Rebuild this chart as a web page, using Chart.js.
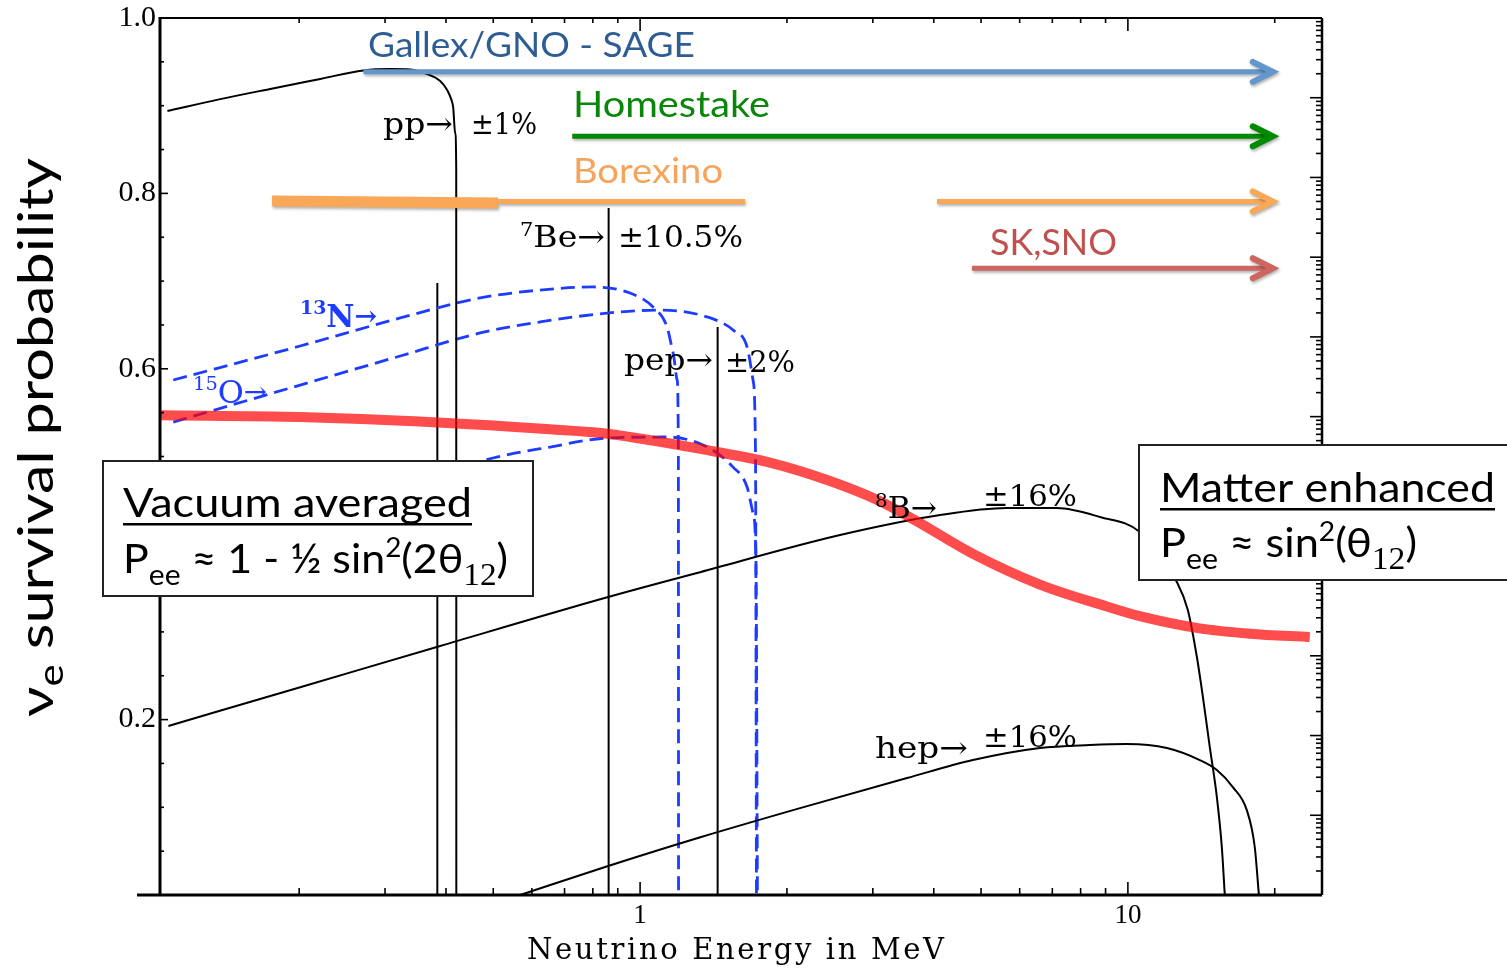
<!DOCTYPE html>
<html>
<head>
<meta charset="utf-8">
<title>Solar neutrino spectra and electron-neutrino survival probability</title>
<script src="https://cdn.jsdelivr.net/npm/chart.js@4.4.1/dist/chart.umd.min.js"></script>
<style>
  html, body { margin: 0; padding: 0; background: #fff; }
  canvas { display: block; }
</style>
</head>
<body>
<canvas id="c" width="1507" height="971"></canvas>
<script>
// ---------- solar neutrino spectra (energy in MeV, flux on the right log axis) ----------
const ppEnergy = [0.1074, 0.1378, 0.1745, 0.2210, 0.2707, 0.3074, 0.3379, 0.3660, 0.3892, 0.4022, 0.4099, 0.4138, 0.4177, 0.4198, 0.4200];
const ppFlux   = [6.8e10, 9.6e10, 1.29e11, 1.72e11, 2.2e11, 2.29e11, 2.26e11, 1.98e11, 1.62e11, 1.25e11, 9.6e10, 7.6e10, 3.6e10, 1.35e10, 10];

const be7Energy = [0.384, 0.862];
const be7Flux   = [4.74e8, 4.14e9];
const pepEnergy = [1.442];
const pepFlux   = [1.33e8];

const b8Energy = [0.1079, 0.2010, 0.3892, 0.8601, 1.327, 2.570, 4.120, 5.649, 7.152, 8.762, 10.58, 12.60, 13.27, 13.85, 14.25, 14.72, 15.22, 15.58, 15.80];
const b8Flux   = [1.32e3, 4.03e3, 1.33e4, 5.47e4, 1.12e5, 3.27e5, 5.83e5, 7.14e5, 7.14e5, 5.51e5, 3.57e5, 8.43e4, 3.76e4, 9.66e3, 3.04e3, 718, 169, 40, 10];

const hepEnergy = [0.5677, 0.8601, 1.334, 2.128, 3.525, 4.813, 6.603, 8.360, 9.95, 12.02, 14.04, 15.22, 16.41, 17.53, 18.20, 18.56];
const hepFlux   = [10, 23.1, 53.4, 123, 293, 493, 698, 761, 783, 698, 493, 370, 226, 116, 40, 10];

const n13Energy = [0.1104, 0.2010, 0.3223, 0.4700, 0.6238, 0.8011, 0.9539, 1.063, 1.136, 1.169, 1.191, 1.198, 1.199];
const n13Flux   = [2.88e7, 7.69e7, 1.73e8, 3.08e8, 3.87e8, 4.23e8, 3.55e8, 2.37e8, 1.33e8, 6.28e7, 2.88e7, 3.81e6, 10];

const o15Energy = [0.1104, 0.2010, 0.3223, 0.4700, 0.6238, 0.8558, 1.099, 1.372, 1.551, 1.657, 1.704, 1.724, 1.732];
const o15Flux   = [8.55e6, 2.49e7, 5.76e7, 1.12e8, 1.54e8, 1.99e8, 2.17e8, 1.78e8, 1.22e8, 7.47e7, 2.88e7, 3.81e6, 10];

const f17Energy = [0.1104, 0.2010, 0.3223, 0.4996, 0.6541, 0.8558, 1.136, 1.372, 1.551, 1.657, 1.704, 1.728, 1.740];
const f17Flux   = [2.12e5, 5.83e5, 1.31e6, 3.03e6, 4.16e6, 5.39e6, 5.55e6, 4.16e6, 2.33e6, 1.31e6, 6.18e5, 1.59e5, 10];

// ---------- electron-neutrino survival probability (left axis) ----------
const peeEnergy = [0.1037, 0.2010, 0.3765, 0.6541, 0.8558, 1.411, 1.846, 2.451, 3.103, 3.695, 4.813, 6.603, 9.057, 10.58, 14.04, 17.78, 23.60];
const peeProb   = [0.547, 0.545, 0.539, 0.531, 0.526, 0.506, 0.493, 0.472, 0.449, 0.426, 0.389, 0.354, 0.329, 0.318, 0.304, 0.298, 0.294];

// ---------- experiment energy ranges ----------
const experiments = ['Gallex/GNO - SAGE', 'Homestake', 'Borexino', 'SK,SNO'];
const expFrom     = [0.271, 0.726, 4.06, 4.79];
const expTo       = [20, 20, 20, 20];
const expLevel    = [0.9386, 0.8651, 0.7909, 0.7147];
const borexinoThick = [0.176, 0.512];   // measured range, heavy bar
const borexinoThin  = [0.512, 1.641];   // measured range, light bar

// ---------- axis ticks ----------
const xLabelTicks = [1, 10];
const xMinorTicks = [0.2, 0.3, 0.4, 0.5, 0.6, 0.7, 0.8, 0.9, 2, 3, 4, 5, 6, 7, 8, 9, 20];
const yLabelTicks = [0.2, 0.4, 0.6, 0.8, 1.0];
const yMajorTicks = [0, 0.2, 0.4, 0.6, 0.8, 1.0];
const yMinorTicks = [0.05, 0.1, 0.15, 0.25, 0.3, 0.35, 0.45, 0.5, 0.55, 0.65, 0.7, 0.75, 0.85, 0.9, 0.95];

const SANS  = 'Lato, "Open Sans", sans-serif';
const SERIF = '"DejaVu Serif", serif';
const TIMES = '"Liberation Serif", serif';
const CNO_BLUE = '#1e3cff';

const pts = (xs, ys) => xs.map((v, i) => ({ x: v, y: ys[i] }));
const spectrum = (label, xs, ys, extra) => Object.assign({
  label, data: pts(xs, ys), yAxisID: 'flux', borderColor: '#000', borderWidth: 2,
  pointRadius: 0, fill: false, cubicInterpolationMode: 'monotone', order: 2
}, extra || {});
const lineFlux = (label, e, flux) => ({
  label, data: [{ x: e, y: 10 }, { x: e, y: flux }], yAxisID: 'flux', borderColor: '#000',
  borderWidth: 2, pointRadius: 0, tension: 0, fill: false, order: 2
});
const dashed = { borderColor: CNO_BLUE, borderWidth: 2.8, borderDash: [14, 7] };

const datasets = [
  {
    label: 'P_ee', data: pts(peeEnergy, peeProb), yAxisID: 'y',
    borderColor: 'rgba(255,0,0,0.7)', borderWidth: 10, borderCapStyle: 'butt',
    pointRadius: 0, fill: false, cubicInterpolationMode: 'monotone', order: 0
  },
  spectrum('pp', ppEnergy, ppFlux),
  spectrum('8B', b8Energy, b8Flux),
  spectrum('hep', hepEnergy, hepFlux),
  spectrum('13N', n13Energy, n13Flux, dashed),
  spectrum('15O', o15Energy, o15Flux, dashed),
  spectrum('17F', f17Energy, f17Flux, Object.assign({ borderDashOffset: 10 }, dashed)),
  ...be7Energy.map((e, i) => lineFlux('7Be ' + e, e, be7Flux[i])),
  ...pepEnergy.map((e, i) => lineFlux('pep', e, pepFlux[i]))
];

// draws a run of text pieces (for sub/superscripts), optionally stretched to a width
function drawRuns(ctx, runs, x, y, opt) {
  opt = opt || {};
  ctx.save();
  const widths = runs.map(r => { ctx.font = r.font; return ctx.measureText(r.text).width; });
  const total = widths.reduce((s, w) => s + w, 0);
  const sx = opt.width ? opt.width / total : 1;
  const span = total * sx;
  ctx.translate(x, y);
  if (opt.rotate) ctx.rotate(opt.rotate);
  ctx.translate(opt.align === 'right' ? -span : opt.align === 'center' ? -span / 2 : 0, 0);
  ctx.scale(sx, 1);
  ctx.fillStyle = opt.color || '#000';
  ctx.textAlign = 'left';
  ctx.textBaseline = 'alphabetic';
  let cx = 0;
  runs.forEach((r, i) => { ctx.font = r.font; ctx.fillText(r.text, cx, r.dy || 0); cx += widths[i]; });
  ctx.restore();
  return span;
}
const run = (text, font, dy) => ({ text, font, dy: dy || 0 });

// draws text letter by letter, spreading the letters out to fill a width
function drawSpread(ctx, text, font, x, y, width, color) {
  ctx.save();
  ctx.font = font;
  ctx.fillStyle = color || '#000';
  ctx.textAlign = 'left';
  ctx.textBaseline = 'alphabetic';
  const chars = Array.from(text);
  const ws = chars.map(c => ctx.measureText(c).width);
  const natural = ws.reduce((s, w) => s + w, 0);
  const gap = (width - natural) / (chars.length - 1);
  let cx = x;
  chars.forEach((c, i) => { ctx.fillText(c, cx, y); cx += ws[i] + gap; });
  ctx.restore();
}

function arrowLine(ctx, x1, x2, y, color, width, head) {
  ctx.save();
  ctx.strokeStyle = color;
  ctx.lineWidth = width;
  ctx.shadowColor = 'rgba(0,0,0,0.3)';
  ctx.shadowBlur = 3;
  ctx.shadowOffsetX = 1;
  ctx.shadowOffsetY = 2;
  ctx.lineCap = 'butt';
  ctx.beginPath();
  ctx.moveTo(x1, y);
  ctx.lineTo(head ? x2 - 5 : x2, y);
  ctx.stroke();
  if (head) {
    const tip = x2 - 2;
    ctx.lineCap = 'round';
    ctx.lineJoin = 'miter';
    ctx.lineWidth = width + 1;
    ctx.beginPath();
    ctx.moveTo(tip - 20, y - 10);
    ctx.lineTo(tip, y);
    ctx.lineTo(tip - 20, y + 10);
    ctx.stroke();
  }
  ctx.restore();
}

const decorations = {
  id: 'decorations',
  afterDatasetsDraw(chart) {
    const { ctx, chartArea: a, scales } = chart;
    const sx = scales.x, sy = scales.y, sf = scales.flux;

    // tick marks pointing into the plot
    ctx.save();
    ctx.strokeStyle = '#000';
    ctx.lineWidth = 1.6;
    const seg = (x1, y1, x2, y2) => { ctx.beginPath(); ctx.moveTo(x1, y1); ctx.lineTo(x2, y2); ctx.stroke(); };
    xLabelTicks.forEach(v => { const p = sx.getPixelForValue(v); seg(p, a.bottom, p, a.bottom - 13); seg(p, a.top, p, a.top + 13); });
    xMinorTicks.forEach(v => { const p = sx.getPixelForValue(v); seg(p, a.bottom, p, a.bottom - 7); seg(p, a.top, p, a.top + 5); });
    yMajorTicks.forEach(v => { const p = sy.getPixelForValue(v); seg(a.left, p, a.left + 8, p); });
    yMinorTicks.forEach(v => { const p = sy.getPixelForValue(v); seg(a.left, p, a.left + 4, p); });
    for (let n = 1; n <= 12; n++) {
      for (let k = 1; k <= 9; k++) {
        const v = k * Math.pow(10, n);
        if (v > sf.max) break;
        const p = sf.getPixelForValue(v);
        seg(a.right, p, a.right - (k === 1 ? 12 : 6), p);
      }
    }
    // frame
    ctx.lineWidth = 2;
    seg(a.left, a.top, a.right, a.top);
    ctx.lineWidth = 2.5;
    seg(a.right, a.top, a.right, a.bottom);
    ctx.lineWidth = 3;
    seg(a.left, a.top - 1, a.left, a.bottom);
    seg(137, a.bottom, a.right, a.bottom);
    ctx.restore();

    // experiment ranges
    const expColors = ['#6396cd', '#008a00', '#f9a857', '#cd6661'];
    experiments.forEach((name, i) => {
      arrowLine(ctx, sx.getPixelForValue(expFrom[i]), sx.getPixelForValue(expTo[i]),
        sy.getPixelForValue(expLevel[i]), expColors[i], 5, true);
    });
    ctx.save();
    ctx.fillStyle = '#f9a857';
    ctx.shadowColor = 'rgba(0,0,0,0.3)';
    ctx.shadowBlur = 3; ctx.shadowOffsetX = 1; ctx.shadowOffsetY = 2;
    const tx1 = sx.getPixelForValue(borexinoThick[0]), tx2 = sx.getPixelForValue(borexinoThick[1]);
    const lvl = sy.getPixelForValue(expLevel[2]);
    ctx.beginPath();
    ctx.moveTo(tx1, lvl - 6); ctx.lineTo(tx2, lvl - 4); ctx.lineTo(tx2, lvl + 7); ctx.lineTo(tx1, lvl + 5);
    ctx.closePath(); ctx.fill();
    ctx.restore();
    arrowLine(ctx, sx.getPixelForValue(borexinoThin[0]), sx.getPixelForValue(borexinoThin[1]), lvl, '#f9a857', 5, false);

    // experiment names
    drawRuns(ctx, [run(experiments[0], '35px ' + SANS)], 368, 57, { width: 327, color: '#2e5d94' });
    drawRuns(ctx, [run(experiments[1], '37px ' + SANS)], 573, 117, { width: 197, color: '#0a870a' });
    drawRuns(ctx, [run(experiments[2], '35px ' + SANS)], 573, 183, { width: 150, color: '#f6a45b' });
    drawRuns(ctx, [run(experiments[3], '37px ' + SANS)], 990, 255, { width: 127, color: '#c0504d' });

    // source labels with flux uncertainties
    const s30 = '30px ' + SERIF, s19 = '19px ' + SERIF;
    drawRuns(ctx, [run('pp→', s30)], 383, 134, { width: 70 });
    drawRuns(ctx, [run('±1%', s30)], 471, 134, { width: 66 });
    drawRuns(ctx, [run('7', s19, -11), run('Be→', s30)], 520, 247, { width: 85 });
    drawRuns(ctx, [run('±10.5%', s30)], 618, 247, { width: 125 });
    drawRuns(ctx, [run('pep→', s30)], 624, 370, { width: 89 });
    drawRuns(ctx, [run('±2%', s30)], 725, 372, { width: 70 });
    drawRuns(ctx, [run('8', s19, -11), run('B→', s30)], 875, 518, { width: 62 });
    drawRuns(ctx, [run('±16%', s30)], 983, 506, { width: 94 });
    drawRuns(ctx, [run('hep→', s30)], 875, 758, { width: 93 });
    drawRuns(ctx, [run('±16%', s30)], 983, 747, { width: 94 });
    drawRuns(ctx, [run('13', 'bold 19px ' + SERIF, -13), run('N', 'bold 31px ' + SERIF), run('→', 'bold 27px ' + SERIF, -2)], 300, 327, { width: 77, color: CNO_BLUE });
    drawRuns(ctx, [run('15', '19px ' + SERIF, -13), run('O', '31px ' + SERIF), run('→', '27px ' + SERIF, -2)], 193, 403, { width: 74, color: CNO_BLUE });

    // formula boxes
    ctx.save();
    ctx.fillStyle = '#fff';
    ctx.strokeStyle = '#222';
    ctx.lineWidth = 2;
    ctx.fillRect(103, 461, 430, 135);
    ctx.strokeRect(103, 461, 430, 135);
    ctx.fillRect(1139, 445, 380, 135);
    ctx.strokeRect(1139, 445, 380, 135);
    ctx.restore();

    const L40 = '40px ' + SANS, L28 = '28px ' + SANS, L26 = '26px ' + SANS, T30 = '31px ' + TIMES;
    drawRuns(ctx, [run('Vacuum averaged', L40)], 123, 517, { width: 349 });
    drawRuns(ctx, [run('P', L40), run('ee', L28, 12), run(' ≈ 1 - ½ sin', L40), run('2', L26, -16),
      run('(2θ', L40), run('12', T30, 12), run(')', L40)], 123, 573, { width: 385 });
    drawRuns(ctx, [run('Matter enhanced', L40)], 1160, 502, { width: 335 });
    drawRuns(ctx, [run('P', L40), run('ee', L28, 12), run(' ≈ sin', L40), run('2', L26, -16),
      run('(θ', L40), run('12', T30, 12), run(')', L40)], 1160, 557, { width: 257 });
    ctx.save();
    ctx.fillStyle = '#000';
    ctx.fillRect(123, 523, 349, 2.5);
    ctx.fillRect(1160, 508, 335, 2.5);
    ctx.restore();

    // axis titles
    drawRuns(ctx, [run('ν', '48px ' + SANS), run('e', '34px ' + SANS, 10), run(' survival probability', '48px ' + SANS)],
      53, 717, { width: 559, rotate: -Math.PI / 2 });
    drawSpread(ctx, 'Neutrino Energy in MeV', '29px ' + SERIF, 527, 959, 417);
  }
};

new Chart(document.getElementById('c'), {
  type: 'line',
  data: { datasets },
  options: {
    responsive: false,
    devicePixelRatio: 1,
    animation: false,
    events: [],
    layout: { padding: { top: 18, left: 0, right: 0, bottom: 0 } },
    plugins: { legend: { display: false }, tooltip: { enabled: false } },
    scales: {
      x: {
        type: 'logarithmic', position: 'bottom', min: 0.1037, max: 25,
        grid: { display: false, drawTicks: false }, border: { display: false },
        afterBuildTicks: s => { s.ticks = xLabelTicks.map(v => ({ value: v })); },
        afterFit: s => { s.height = 76; s.paddingLeft = 0; s.paddingRight = 0; },
        ticks: { autoSkip: false, maxRotation: 0, padding: 5, color: '#000',
          font: { family: 'Liberation Serif', size: 27 }, callback: v => String(v) }
      },
      y: {
        type: 'linear', position: 'left', min: 0, max: 1,
        grid: { display: false, drawTicks: false }, border: { display: false },
        afterBuildTicks: s => { s.ticks = yLabelTicks.map(v => ({ value: v })); },
        afterFit: s => { s.width = 160; s.paddingTop = 0; s.paddingBottom = 0; },
        ticks: { autoSkip: false, padding: 4, color: '#000',
          font: { family: 'Liberation Serif', size: 30 }, callback: v => v.toFixed(1) }
      },
      flux: {
        type: 'logarithmic', position: 'right', min: 10, max: 1e12,
        grid: { display: false, drawTicks: false }, border: { display: false },
        ticks: { display: false },
        afterFit: s => { s.width = 185; s.paddingTop = 0; s.paddingBottom = 0; }
      }
    }
  },
  plugins: [decorations]
});
</script>
</body>
</html>
